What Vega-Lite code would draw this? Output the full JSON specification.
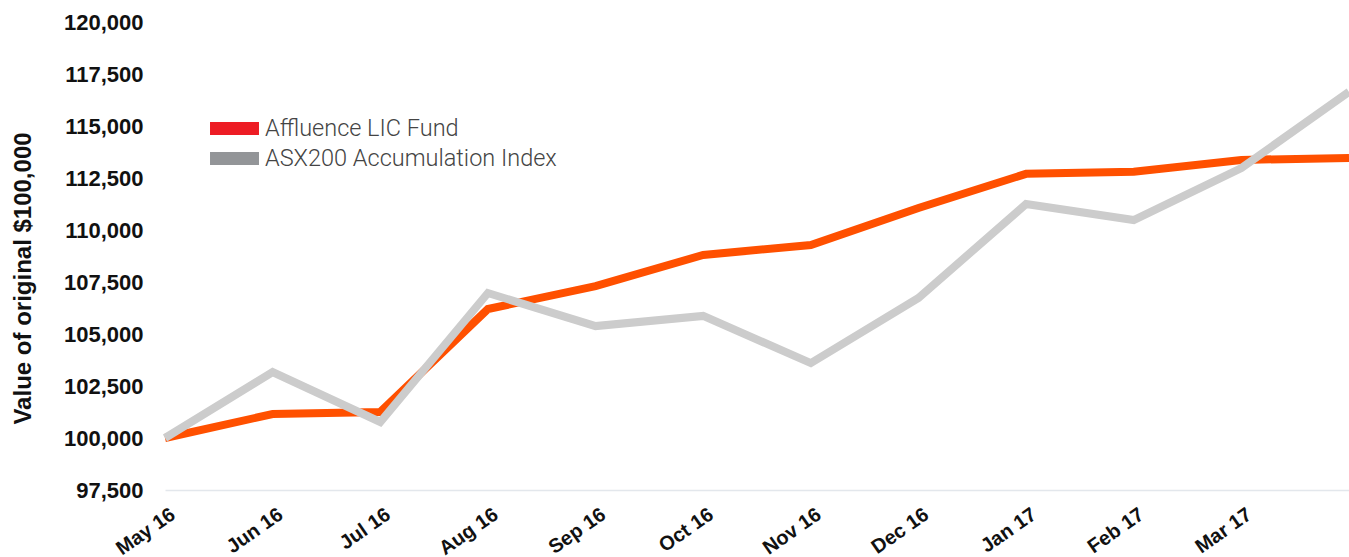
{
  "$schema": "https://vega.github.io/schema/vega-lite/v6.json",
  "width": 1184,
  "height": 468,
  "autosize": {"type": "none"},
  "padding": {"left": 165, "top": 22, "right": 0, "bottom": 67},
  "background": "white",
  "config": {"view": {"stroke": null}},
  "data": {"values": [
    {"month": "May 16", "series": "Affluence LIC Fund", "value": 100000},
    {"month": "Jun 16", "series": "Affluence LIC Fund", "value": 101150},
    {"month": "Jul 16", "series": "Affluence LIC Fund", "value": 101250},
    {"month": "Aug 16", "series": "Affluence LIC Fund", "value": 106200},
    {"month": "Sep 16", "series": "Affluence LIC Fund", "value": 107300},
    {"month": "Oct 16", "series": "Affluence LIC Fund", "value": 108800},
    {"month": "Nov 16", "series": "Affluence LIC Fund", "value": 109280},
    {"month": "Dec 16", "series": "Affluence LIC Fund", "value": 111060},
    {"month": "Jan 17", "series": "Affluence LIC Fund", "value": 112700},
    {"month": "Feb 17", "series": "Affluence LIC Fund", "value": 112800},
    {"month": "Mar 17", "series": "Affluence LIC Fund", "value": 113370},
    {"month": "Apr 17", "series": "Affluence LIC Fund", "value": 113460},
    {"month": "May 16", "series": "ASX200 Accumulation Index", "value": 100000},
    {"month": "Jun 16", "series": "ASX200 Accumulation Index", "value": 103170},
    {"month": "Jul 16", "series": "ASX200 Accumulation Index", "value": 100770},
    {"month": "Aug 16", "series": "ASX200 Accumulation Index", "value": 106970},
    {"month": "Sep 16", "series": "ASX200 Accumulation Index", "value": 105380},
    {"month": "Oct 16", "series": "ASX200 Accumulation Index", "value": 105870},
    {"month": "Nov 16", "series": "ASX200 Accumulation Index", "value": 103600},
    {"month": "Dec 16", "series": "ASX200 Accumulation Index", "value": 106730},
    {"month": "Jan 17", "series": "ASX200 Accumulation Index", "value": 111250},
    {"month": "Feb 17", "series": "ASX200 Accumulation Index", "value": 110480},
    {"month": "Mar 17", "series": "ASX200 Accumulation Index", "value": 112980},
    {"month": "Apr 17", "series": "ASX200 Accumulation Index", "value": 116640}
  ]},
  "encoding": {
    "x": {
      "field": "month", "type": "ordinal",
      "sort": ["May 16","Jun 16","Jul 16","Aug 16","Sep 16","Oct 16","Nov 16","Dec 16","Jan 17","Feb 17","Mar 17","Apr 17"],
      "scale": {"type": "point", "padding": 0},
      "axis": {
        "title": null, "labelAngle": -35, "labelAlign": "right", "labelBaseline": "top",
        "labelFont": "Liberation Sans", "labelFontWeight": "bold", "labelFontSize": 20, "labelColor": "#111111",
        "ticks": false, "domain": true, "domainColor": "#E3E7EC", "domainWidth": 1.5, "grid": false,
        "labelPadding": 14, "labelOverlap": false, "labelOffset": 2,
        "values": ["May 16","Jun 16","Jul 16","Aug 16","Sep 16","Oct 16","Nov 16","Dec 16","Jan 17","Feb 17","Mar 17"]
      }
    },
    "y": {
      "field": "value", "type": "quantitative",
      "scale": {"domain": [97500, 120000], "nice": false, "zero": false},
      "axis": {
        "values": [97500,100000,102500,105000,107500,110000,112500,115000,117500,120000],
        "format": ",d", "grid": false, "ticks": false, "domain": false,
        "labelFont": "Liberation Sans", "labelFontWeight": "bold", "labelFontSize": 22, "labelColor": "#111111",
        "labelPadding": 22,
        "title": "Value of original $100,000",
        "titleFont": "Liberation Sans", "titleFontWeight": "bold", "titleFontSize": 24, "titleColor": "#111111",
        "titleX": -130, "titleY": 256
      }
    }
  },
  "layer": [
    {
      "transform": [{"filter": "datum.series === 'Affluence LIC Fund'"}],
      "mark": {"type": "line", "stroke": "#FF5000", "strokeWidth": 8}
    },
    {
      "transform": [{"filter": "datum.series === 'ASX200 Accumulation Index'"}],
      "mark": {"type": "line", "stroke": "#CCCCCC", "strokeWidth": 8}
    },
    {
      "mark": {"type": "point", "filled": true, "opacity": 0},
      "encoding": {
        "fill": {
          "field": "series", "type": "nominal",
          "scale": {"domain": ["Affluence LIC Fund", "ASX200 Accumulation Index"], "range": ["#ED1C24", "#939598"]},
          "legend": {
            "title": null, "orient": "none", "legendX": 54, "legendY": 91, "padding": 0,
            "symbolType": "M-1.6,-0.42H1.6V0.42H-1.6Z", "symbolSize": 937, "symbolOpacity": 1, "symbolStrokeWidth": 0,
            "labelFont": "Roboto", "labelFontWeight": 300, "labelFontSize": 23.5, "labelColor": "#444444",
            "labelOffset": 15, "rowPadding": 3, "labelLimit": 0
          }
        }
      }
    }
  ]
}
